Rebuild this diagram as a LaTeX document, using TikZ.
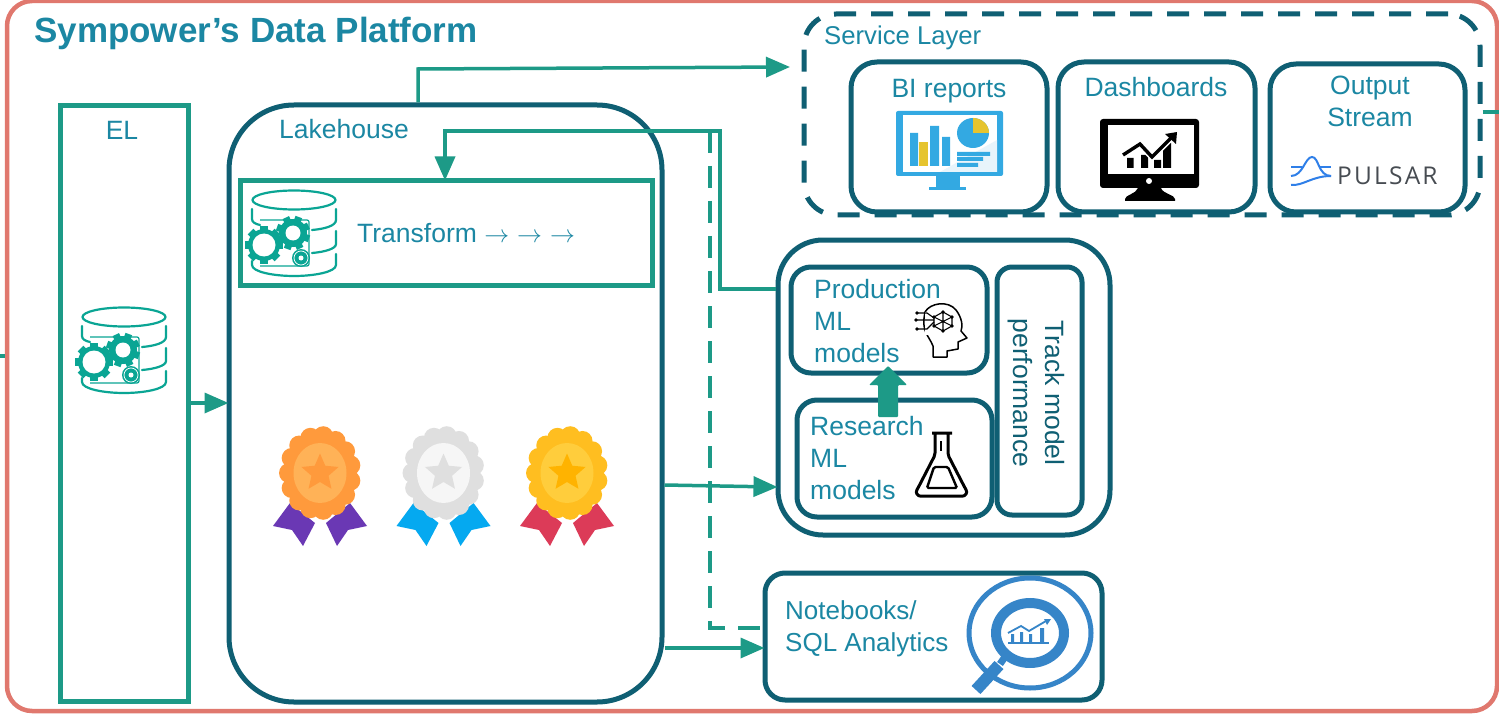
\documentclass[tikz,border=0pt]{standalone}
\usepackage{fontspec}
\setmainfont{Liberation Sans}
\newfontfamily\pulsarfont[LetterSpace=9]{Open Sans}
\usetikzlibrary{arrows.meta}
\definecolor{frameRed}{HTML}{E0786E}
\definecolor{dkTeal}{HTML}{0F5F73}
\definecolor{gnTeal}{HTML}{1D9A87}
\definecolor{txTeal}{HTML}{1B87A3}
\definecolor{iconTeal}{HTML}{0AA594}
\definecolor{biBlue}{HTML}{33A9E2}
\definecolor{biYel}{HTML}{E6C42E}
\definecolor{biPale}{HTML}{E8F4FB}
\definecolor{magBlue}{HTML}{3685C8}
\definecolor{pulsarBlue}{HTML}{2F7FE8}
\definecolor{pulsarGrey}{HTML}{474C52}
\definecolor{oA}{HTML}{FF9A3C}\definecolor{oB}{HTML}{FFB257}\definecolor{oR}{HTML}{6A38B4}
\definecolor{sA}{HTML}{DFDFDF}\definecolor{sB}{HTML}{F6F6F6}\definecolor{sR}{HTML}{05A9F0}
\definecolor{gA}{HTML}{FFBE20}\definecolor{gB}{HTML}{FFCD3C}\definecolor{gS}{HTML}{FFB300}\definecolor{gR}{HTML}{DC3B58}
\tikzset{
  x=1pt,y=-1pt,
  boxdark/.style={draw=dkTeal,line width=5pt,fill=white,rounded corners=#1,inner sep=0pt},
  boxdark/.default=20pt,
  boxgreen/.style={draw=gnTeal,line width=5pt,fill=white,inner sep=0pt},
  txt/.style={text=txTeal,inner sep=0pt,font=\fontsize{26.5}{32}\selectfont},
  ltxt/.style={txt,align=left,anchor=north west},
  ctxt/.style={txt,align=center,anchor=north},
  conn/.style={draw=gnTeal,line width=3.5pt},
  tip/.style={-{Stealth[length=24pt,width=20pt,inset=0pt]},shorten >=-2pt},
  iconline/.style={draw=iconTeal,line width=2.2pt,line cap=round},
  pics/gear/.style n args={4}{code={
    \foreach \a in {0,45,...,315} \draw[iconTeal,line width=#4 pt] (\a+#3:#1-2) -- (\a+#3:#1+3);
    \fill[iconTeal] (0,0) circle (#1);
    \fill[white] (0,0) circle (#2);
  }},
  pics/dbicon/.style={code={
    \draw[iconline] (0,-33) ellipse (41.5 and 9.5);
    \draw[iconline] (-42,-24) -- (-42,-14) .. controls (-42,-11) and (-39,-9) .. (-34,-8);
    \draw[iconline] (42,-24) -- (42,-13) .. controls (42,-7) and (30,-4) .. (18,-3);
    \draw[iconline] (42,-2) -- (42,11) .. controls (42,16) and (30,19) .. (18,20);
    \draw[iconline] (42,21) -- (42,32) .. controls (42,39) and (20,43) .. (0,43) .. controls (-20,43) and (-42,39) .. (-42,32) -- (-42,28);
    \draw[iconTeal,line width=1.2pt,rounded corners=2pt] (-34,-13) -- (15,-13) -- (15,33) -- (-34,33);
    \pic at (-30,12) {gear={16}{11.5}{0}{8}};
    \pic at (-1,0) {gear={14}{7.5}{20}{7}};
    \fill[iconTeal] (7,25) circle (9);
    \draw[white,line width=0.7pt] (7,25) circle (7);
    \fill[white] (7,25) circle (2.5);
  }},
  pics/medal/.style n args={4}{code={
    \fill[#4] (-30,30) -- (-47,53) -- (-28,57) -- (-17,73) -- (-5,50) -- cycle;
    \fill[#4] (30,30) -- (47,53) -- (28,57) -- (17,73) -- (6,50) -- cycle;
    \fill[#1] (0,0) ellipse (36 and 42);
    \foreach \a in {0,24,...,336} \fill[#1] (\a+12:31 and 37) circle (10);
    \fill[#2] (0,0) ellipse (26.5 and 30);
    \fill[#3] (-90:19.5) -- (-54:9) -- (-18:19.5) -- (18:9) -- (54:19.5) -- (90:9) -- (126:19.5) -- (162:9) -- (198:19.5) -- (234:9) -- cycle;
  }}
}
\begin{document}
\begin{tikzpicture}
\useasboundingbox (0,0) rectangle (1499,714);
% outer frame
\node[draw=frameRed,line width=4.5pt,rounded corners=25pt,fill=white,minimum width=1490pt,minimum height=710pt,inner sep=0pt] (frame) at (752,356) {};
\node[inner sep=0pt,anchor=base west,text=txTeal,font=\fontsize{35}{40}\selectfont\bfseries] (title) at (34,43) {Sympower’s Data Platform};

% boxes
\node[boxgreen,minimum width=128pt,minimum height=595pt] (el) at (124,403.5) {};
\node[boxdark=65pt,minimum width=433pt,minimum height=597pt] (lake) at (445.5,403.5) {};
\node[boxgreen,minimum width=412pt,minimum height=104pt] (transform) at (446,233) {};
\node[draw=dkTeal,line width=5pt,rounded corners=32pt,dash pattern=on 22pt off 15pt,minimum width=676pt,minimum height=201pt,inner sep=0pt] (service) at (1142,114.5) {};
\node[boxdark=26pt,minimum width=196pt,minimum height=150pt] (bi) at (949,137) {};
\node[boxdark=26pt,minimum width=197pt,minimum height=150pt] (dash) at (1156.5,137) {};
\node[boxdark=26pt,minimum width=195pt,minimum height=148pt] (output) at (1367.5,138) {};
\node[boxdark=45pt,minimum width=332pt,minimum height=295pt] (mlgroup) at (944,387.5) {};
\node[boxdark=20pt,minimum width=196pt,minimum height=106pt] (prod) at (889,320) {};
\node[boxdark=20pt,minimum width=195pt,minimum height=117pt] (research) at (894.5,458.5) {};
\node[boxdark=15pt,minimum width=85pt,minimum height=248pt] (track) at (1039.5,391) {};
\node[boxdark=20pt,minimum width=337pt,minimum height=127pt] (nb) at (933.5,636.5) {};

% connectors
\coordinate (stubL) at (0,356);
\coordinate (stubR) at (1499,112);
\coordinate (svcin) at (788,67);
\draw[conn] (stubL) -- (frame.west |- stubL);
\draw[conn] (service.east |- stubR) -- (stubR);
\draw[conn,tip] (lake.north -| 418,0) -- (418,69) -- (svcin);
\draw[conn,tip] (mlgroup.west |- 0,289) -- (720,289) -- (720,131) -- (445,131) -- (transform.north -| 445,0);
\draw[conn,dashed,dash pattern=on 22pt off 13pt] (710,131) -- (710,628) -- (nb.west |- 0,628);
\draw[conn,tip] (el.east |- 0,403) -- (lake.west |- 0,403);
\draw[conn,tip] (lake.east |- 0,485) -- (mlgroup.west |- 0,487);
\draw[conn,tip] (lake.east |- 0,648) -- (nb.west |- 0,648);
\fill[gnTeal,rounded corners=1pt] (878,417) -- (878,385) -- (869,385) -- (888,366) -- (907,385) -- (898,385) -- (898,417) -- cycle;

% labels
\node[txt,anchor=base] (lbEl) at (122,140) {EL};
\node[txt,anchor=base west] (lbLake) at (279,139) {Lakehouse};
\node[txt,anchor=base west] (lbTrans) at (357,242) {Transform {\fontsize{29}{32}\selectfont $\rightarrow$ $\rightarrow$ $\rightarrow$}};
\node[txt,anchor=base west,font=\fontsize{25.7}{32}\selectfont] (lbSvc) at (824,45) {Service Layer};
\node[txt,anchor=base] (lbBi) at (949,98) {BI reports};
\node[txt,anchor=base] (lbDash) at (1156,97) {Dashboards};
\node[ctxt] (lbOut) at (1370,76) {Output\\Stream};
\node[ltxt] (lbProd) at (814,279) {Production\\ML\\models};
\node[ltxt] (lbRes) at (810,416) {Research\\ML\\models};
\node[txt,rotate=-90,align=center,text=dkTeal] (lbTrack) at (1036,393) {Track model\\performance};
\node[ltxt,font=\fontsize{26}{32}\selectfont] (lbNb) at (785,600) {Notebooks/\\SQL Analytics};

% database icons
\pic at (124,350) {dbicon};
\pic at (294,233) {dbicon};

% medals
\pic at (320,473) {medal={oA}{oB}{oA}{oR}};
\pic at (443.5,473) {medal={sA}{sB}{sA}{sR}};
\pic at (567,473) {medal={gA}{gB}{gS}{gR}};

% BI report icon
\fill[biBlue,rounded corners=2pt] (896,111) rectangle (1003,176);
\fill[white] (903,115) rectangle (997,172);
\fill[biPale] (997,140) -- (997,172) -- (940,172) -- cycle;
\fill[biBlue] (910,133) rectangle (918,166) (930,126) rectangle (939,166) (942,137) rectangle (950,166);
\fill[biYel] (919,142) rectangle (928,166);
\fill[biBlue] (973,133) ellipse (16 and 15);
\fill[biYel] (973,133) -- (973,118) arc (-90:0:16 and 15) -- cycle;
\fill[biBlue] (957,152) rectangle (990,156) (957,157) rectangle (983,161) (957,163) rectangle (978,167);
\fill[biBlue] (936,176) rectangle (960,187);
\fill[biBlue] (929,187) rectangle (966,190);

% dashboard icon
\fill[black,rounded corners=3pt] (1100,119) rectangle (1199,188);
\fill[white] (1108,125) rectangle (1194,174);
\fill[white] (1149,181) circle (3);
\fill[black] (1138,188) -- (1161,188) .. controls (1163,194) and (1175,195) .. (1175,199) -- (1175,201) -- (1125,201) -- (1125,199) .. controls (1125,195) and (1136,194) .. (1138,188) -- cycle;
\fill[black] (1127,158) rectangle (1133.5,168) (1141,155) rectangle (1148,168) (1154,160) rectangle (1161,168) (1163,143) rectangle (1171,168);
\draw[white,line width=6.5pt] (1123,155) -- (1140,144) -- (1152,157) -- (1174,135);
\draw[black,line width=3.4pt] (1123,155) -- (1140,144) -- (1152,157) -- (1172,137);
\fill[black] (1177,132) -- (1176,144) -- (1165,134) -- cycle;

% pulsar logo
\draw[pulsarBlue,line width=2pt] (1291,167) -- (1302,167) (1320,167) -- (1331,167);
\draw[pulsarBlue,line width=2pt] (1291,176) .. controls (1303,176) and (1305,157) .. (1312,157) .. controls (1319,157) and (1318,176) .. (1331,176);
\draw[pulsarBlue,line width=2pt] (1291,185) .. controls (1303,186) and (1312,176) .. (1331,176);
\node[inner sep=0pt,anchor=base west,text=pulsarGrey,font=\fontsize{24.5}{28}\selectfont\pulsarfont] (pulsarTxt) at (1337,185) {PULSAR};

% head icon
\draw[black,line width=1.5pt,line join=round] (933,357) -- (933,346) .. controls (928,334) and (921,332) .. (925,312) .. controls (930,303) and (948,300) .. (956,310) .. controls (962,318) and (963,326) .. (961,331) -- (967,338) -- (958,342) -- (958,349) -- (947,351) -- (947,357) -- cycle;
\fill[white] (925,312) rectangle (935,335);
\draw[black,line width=1.1pt] (918,313) -- (927,313) -- (934,318) (916,320) -- (934,320) (918,329) -- (927,329) -- (934,322);
\draw[black,line width=1.1pt] (943,312) -- (952,317) -- (952,326) -- (943,331) -- (934,326) -- (934,317) -- cycle (943,312) -- (943,331) (934,317) -- (952,326) (952,317) -- (934,326);
\foreach \p in {(943,312),(952,317),(952,326),(943,331),(934,326),(934,317),(917,313),(916,320),(917,329)} \fill[black] \p circle (1.8);

% flask icon
\draw[black,line width=3pt,line join=round,rounded corners=2pt] (932,433) -- (952,433) (935,433) -- (935,455) -- (918,488) .. controls (915,493) and (918,496) .. (922,496) -- (961,496) .. controls (965,496) and (968,493) .. (965,488) -- (948,455) -- (948,433);
\draw[black,line width=2.4pt,rounded corners=1.5pt] (934,467) -- (948,467) -- (957,488) -- (927,488) -- cycle;
\draw[black,line width=2pt] (941,441) -- (941,451);

% magnifier icon
\draw[magBlue,line width=5pt] (1030,633) ellipse (61 and 55);
\fill[white] (995,655) rectangle (1010,675);
\draw[magBlue,line width=10pt] (1030,633) ellipse (34 and 30);
\draw[magBlue,line width=7pt] (1007,654) -- (1000,664);
\draw[magBlue,line width=12pt] (999,665) -- (976,690);
\draw[magBlue,line width=1.6pt] (1008,643) -- (1049,643);
\fill[magBlue] (1011,634) rectangle (1014,642) (1020,632) rectangle (1023,642) (1029,634) rectangle (1032,642) (1040,628) rectangle (1044,642);
\draw[magBlue,line width=1.8pt] (1008,633) -- (1021,626) -- (1029,631) -- (1046,621);
\fill[magBlue] (1051,619) -- (1044,619) -- (1047,625) -- cycle;
\end{tikzpicture}
\end{document}
